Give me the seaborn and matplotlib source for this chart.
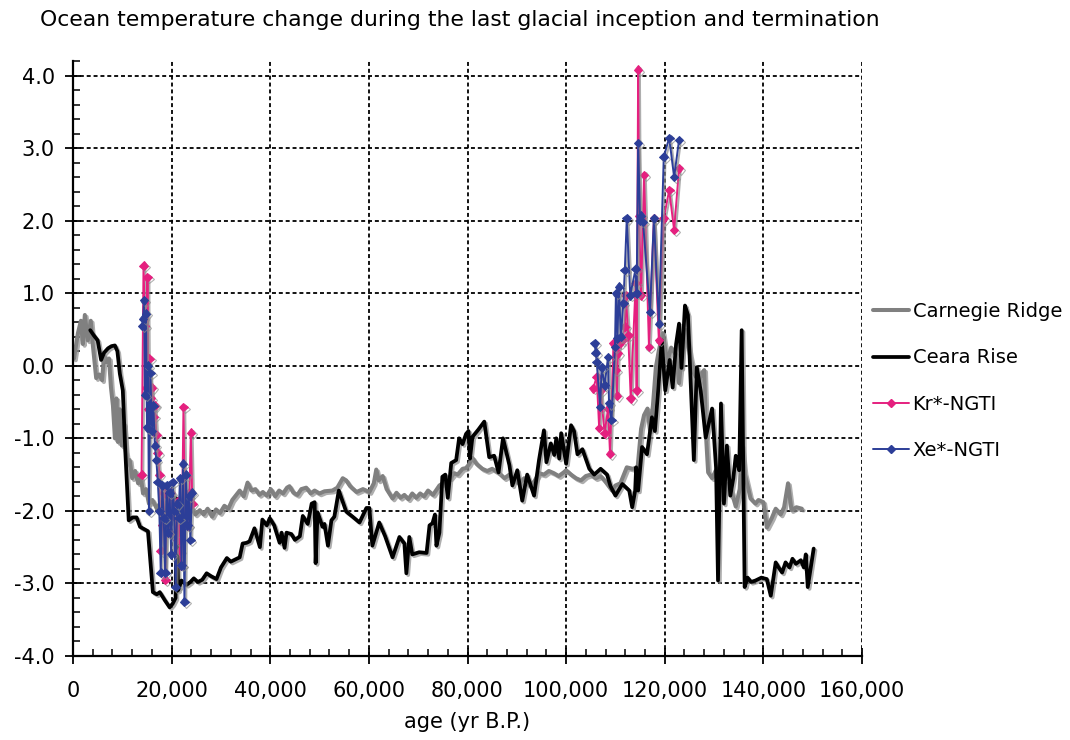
import numpy as np
import pandas as pd
import matplotlib
matplotlib.use("Agg")
import matplotlib.pyplot as plt
import seaborn as sns
from matplotlib import patheffects as pe
from matplotlib.lines import Line2D
from matplotlib.ticker import MultipleLocator, FuncFormatter

# ---- data: age in kyr B.P., temperature anomaly in deg C ----
carnegie_age = [0.2, 1.0, 1.6, 2.0, 2.4, 3.0, 3.6, 4.0, 4.7, 5.3, 5.9, 6.3, 6.8, 7.3, 7.7,
                8.1, 8.5, 8.8, 9.1, 9.5, 9.9, 10.3, 10.7, 11.1, 11.5, 12.0, 12.6, 13.2, 13.8,
                14.2, 14.8, 15.4, 16.1, 17.0, 17.8, 18.5, 19.2, 20.0, 20.8, 21.6, 22.4, 23.2,
                24.0, 24.8, 25.7, 26.5, 27.3, 28.2, 29.0, 29.8, 30.7, 31.5, 32.3, 33.1, 33.8,
                34.6, 35.4, 36.2, 37.0, 37.8, 38.5, 39.3, 40.1, 41.0, 41.8, 42.6, 43.4, 43.9,
                44.7, 45.5, 46.3, 47.3, 48.2, 49.0, 50.0, 51.0, 52.6, 53.6, 54.7, 55.4, 56.2,
                57.5, 58.8, 60.1, 61.0, 61.5, 62.0, 62.8, 63.6, 64.8, 65.6, 66.4, 67.2, 68.0,
                68.8, 69.6, 70.4, 71.2, 72.0, 73.0, 74.3, 75.0, 75.7, 76.5, 77.3, 78.0, 79.0,
                79.7, 80.3, 81.0, 81.8, 83.0, 84.0, 85.0, 86.4, 87.5, 88.5, 89.5, 90.5, 91.5,
                92.5, 93.5, 94.5, 95.5, 96.5, 97.5, 98.5, 99.5, 100.0, 101.0, 102.0, 103.0,
                104.0, 105.0, 106.0, 107.0, 108.0, 109.3, 110.0, 111.0, 112.3, 113.5, 114.5,
                115.2, 115.8, 116.5, 117.0, 117.6, 118.2, 118.8, 119.6, 120.5, 121.3, 122.3,
                122.9, 123.5, 124.3, 125.1, 125.9, 126.9, 127.5, 128.0, 128.4, 128.8, 129.6,
                130.3, 130.9, 131.7, 132.8, 133.6, 134.4, 135.2, 135.6, 136.2, 137.4, 138.4,
                139.0, 140.0, 140.7, 141.7, 142.5, 143.5, 144.2, 145.0, 145.7, 146.7, 147.8]
carnegie_temp = [0.10, 0.45, 0.62, 0.30, 0.70, 0.35, 0.62, 0.30, -0.17, -0.12, -0.20, 0.14,
                 0.05, 0.10, -0.30, -0.55, -1.00, -0.45, -1.05, -0.60, -1.10, -0.80, -1.17,
                 -1.35, -1.30, -1.55, -1.45, -1.62, -1.55, -1.76, -1.70, -1.90, -1.85, -1.97,
                 -1.88, -1.98, -1.85, -1.95, -1.82, -1.98, -1.90, -2.02, -1.95, -2.05, -1.99,
                 -2.05, -1.97, -2.08, -1.98, -2.03, -1.93, -1.97, -1.85, -1.78, -1.72, -1.80,
                 -1.61, -1.72, -1.70, -1.78, -1.74, -1.79, -1.70, -1.80, -1.72, -1.76, -1.68,
                 -1.66, -1.75, -1.78, -1.70, -1.68, -1.76, -1.72, -1.76, -1.73, -1.72, -1.68,
                 -1.55, -1.58, -1.66, -1.74, -1.70, -1.74, -1.62, -1.43, -1.58, -1.52, -1.70,
                 -1.83, -1.75, -1.82, -1.78, -1.84, -1.76, -1.82, -1.76, -1.80, -1.72, -1.78,
                 -1.65, -1.62, -1.54, -1.55, -1.48, -1.50, -1.42, -1.41, -1.36, -1.27, -1.35,
                 -1.42, -1.45, -1.42, -1.48, -1.55, -1.50, -1.58, -1.62, -1.55, -1.65, -1.60,
                 -1.48, -1.50, -1.45, -1.48, -1.52, -1.47, -1.44, -1.50, -1.55, -1.58, -1.52,
                 -1.50, -1.55, -1.52, -1.60, -1.72, -1.65, -1.62, -1.40, -1.42, -1.40, -0.87,
                 -0.68, -0.59, -0.89, -0.55, -0.02, 0.21, 0.45, 0.05, 0.25, 0.15, -0.24, 0.20,
                 0.49, 0.15, -0.10, -0.22, -0.10, -0.06, -1.00, -1.47, -1.55, -1.45, -1.67,
                 -1.85, -1.63, -1.75, -1.94, -1.70, -1.10, -1.48, -1.83, -1.90, -1.85, -1.88,
                 -2.23, -2.10, -1.97, -2.05, -1.95, -1.62, -1.99, -1.95, -1.97]

ceara_age = [3.5, 4.2, 5.0, 5.7, 6.3, 7.1, 7.8, 8.5, 9.0, 9.5, 10.1, 10.6, 11.3, 12.1, 12.9,
             13.6, 14.4, 15.2, 16.2, 17.0, 17.6, 18.6, 19.6, 20.2, 20.8, 21.0, 21.3, 22.0,
             23.0, 23.8, 24.5, 25.3, 26.2, 27.1, 28.0, 29.1, 30.0, 31.2, 32.0, 32.6, 33.8,
             34.4, 35.2, 35.8, 36.8, 37.9, 38.4, 39.3, 39.9, 40.8, 41.9, 42.3, 42.9, 43.3,
             44.3, 45.0, 46.0, 46.6, 47.6, 48.4, 49.0, 49.2, 49.6, 50.6, 51.0, 51.7, 52.4,
             53.0, 53.9, 55.4, 56.7, 58.1, 59.5, 60.1, 60.7, 62.1, 63.3, 64.8, 66.2, 67.2,
             67.6, 68.2, 68.8, 70.2, 71.7, 72.3, 72.9, 73.4, 73.7, 74.3, 74.9, 75.5, 76.0,
             76.7, 77.7, 78.3, 79.0, 79.7, 80.2, 80.5, 81.0, 82.2, 83.4, 84.4, 85.4, 86.3,
             87.2, 88.5, 89.1, 90.1, 91.1, 92.1, 93.5, 94.5, 95.5, 96.0, 96.9, 97.6, 98.0,
             98.6, 99.0, 100.0, 101.0, 101.6, 102.3, 103.3, 104.7, 105.7, 107.0, 108.3,
             109.0, 110.0, 111.4, 112.8, 113.4, 114.0, 114.2, 114.6, 115.4, 116.4, 117.4,
             118.0, 118.6, 119.4, 120.1, 121.0, 121.6, 122.3, 122.9, 123.4, 124.1, 124.7,
             125.9, 126.5, 127.3, 128.3, 129.6, 130.4, 130.8, 131.4, 132.0, 132.6, 133.3,
             133.9, 134.4, 135.1, 135.6, 136.2, 136.8, 137.5, 138.4, 139.6, 140.7, 141.5,
             142.5, 143.1, 143.8, 144.5, 145.3, 145.9, 146.6, 147.6, 148.2, 148.6, 149.0,
             150.2]
ceara_temp = [0.49, 0.42, 0.35, 0.08, 0.18, 0.24, 0.27, 0.28, 0.20, -0.11, -0.34, -1.17,
              -2.13, -2.09, -2.09, -2.22, -2.25, -2.28, -3.12, -3.15, -3.12, -3.23, -3.33,
              -3.28, -3.20, -1.83, -3.10, -2.96, -3.02, -2.98, -2.93, -2.98, -2.95, -2.86,
              -2.90, -2.94, -2.78, -2.65, -2.70, -2.68, -2.64, -2.45, -2.44, -2.42, -2.24,
              -2.50, -2.12, -2.20, -2.10, -2.20, -2.44, -2.30, -2.51, -2.30, -2.32, -2.40,
              -2.35, -2.07, -2.18, -1.90, -1.88, -2.72, -2.02, -2.22, -2.18, -2.48, -2.13,
              -2.08, -1.72, -2.01, -2.08, -2.16, -1.96, -1.96, -2.48, -2.16, -2.35, -2.64,
              -2.36, -2.45, -2.86, -2.36, -2.60, -2.57, -2.58, -2.20, -2.17, -2.05, -2.48,
              -2.30, -1.53, -1.50, -1.82, -1.34, -1.30, -1.00, -1.08, -0.94, -0.90, -1.28,
              -0.98, -0.88, -0.77, -1.26, -1.24, -1.47, -1.00, -1.37, -1.65, -1.44, -1.86,
              -1.50, -1.79, -1.30, -0.89, -1.33, -1.07, -1.23, -1.00, -1.28, -0.93, -1.35,
              -0.82, -0.90, -1.22, -1.15, -1.42, -1.50, -1.42, -1.50, -1.66, -1.79, -1.63,
              -1.72, -1.95, -1.72, -1.40, -1.72, -1.12, -1.22, -0.71, -0.90, -0.40, 0.35,
              -0.34, 0.08, -0.30, 0.30, 0.58, -0.03, 0.83, 0.70, -1.30, -0.02, -0.35, -0.99,
              -0.59, -1.40, -2.96, -0.52, -1.90, -1.10, -1.79, -1.55, -1.24, -1.44, 0.49,
              -3.05, -2.92, -2.98, -2.96, -2.92, -2.94, -3.17, -2.71, -2.78, -2.85, -2.71,
              -2.78, -2.66, -2.73, -2.68, -2.78, -2.60, -3.05, -2.52]

# Kr*-NGTI mean ocean temperature (termination and inception sections)
kr_age = [13.9, 14.3, 14.6, 14.9, 15.1, 15.3, 15.5, 15.8, 16.0, 16.3, 16.6, 16.9, 17.2, 17.5,
          17.8, 18.1, 18.4, 18.7, 19.0, 19.3, 19.6, 19.9, 20.2, 20.5, 20.8, 21.1, 21.4, 21.7,
          22.0, 22.4, 22.7, 23.0, 23.3, 23.6, 23.9, 24.2,
          105.5, 106.2, 106.7, 107.0, 107.8, 108.5, 108.9, 109.6, 110.1, 110.3, 110.5, 110.9,
          111.4, 111.9, 112.1, 112.6, 113.1, 114.1, 114.3, 114.6, 114.8, 115.2, 115.8, 116.8,
          117.8, 118.8, 119.8, 120.9, 121.9, 122.9]
kr_temp = [-1.50, 1.38, 0.55, -0.30, 1.22, -0.60, 0.10, -0.45, -0.30, -0.70, -0.55, -0.95,
           -1.20, -1.50, -2.55, -2.20, -1.75, -2.95, -2.05, -1.80, -2.30, -1.75, -2.05, -1.90,
           -2.10, -2.40, -1.85, -2.55, -2.75, -0.57, -2.10, -1.95, -2.20, -1.75, -0.92, -1.90,
           -0.31, -0.15, -0.86, -0.34, -0.93, -0.59, -1.21, 0.31, -0.06, -0.41, 0.17, 0.31,
           0.35, 0.54, 0.97, 0.42, -0.45, 1.14, -0.34, 4.08, 2.07, 0.97, 2.63, 0.26, 2.03,
           0.35, 2.03, 2.42, 1.87, 2.72]

# Xe*-NGTI mean ocean temperature
xe_age = [14.0, 14.2, 14.4, 14.6, 14.8, 15.0, 15.2, 15.4, 15.7, 16.0, 16.3, 16.6, 16.9, 17.2,
          17.5, 17.8, 18.1, 18.4, 18.7, 19.0, 19.3, 19.6, 19.9, 20.2, 20.5, 20.8, 21.1, 21.4,
          21.7, 22.0, 22.3, 22.6, 22.9, 23.2, 23.5, 23.8, 24.1,
          105.8, 106.0, 106.2, 106.9, 107.2, 107.8, 108.5, 108.7, 109.2, 109.9, 110.1, 110.4,
          110.7, 111.1, 111.6, 111.9, 112.3, 113.0, 114.1, 114.3, 114.6, 115.0, 115.2, 115.6,
          117.0, 117.8, 118.8, 119.8, 120.9, 121.9, 122.9]
xe_temp = [0.55, 0.65, 0.90, -0.40, 0.72, -0.85, 0.00, -2.00, -0.10, -0.90, -0.55, -1.10,
           -1.30, -1.60, -2.00, -2.85, -1.65, -2.10, -2.85, -1.65, -2.30, -1.75, -2.60, -1.60,
           -2.00, -3.05, -1.90, -2.10, -1.55, -2.75, -1.35, -3.25, -1.50, -2.20, -1.80, -2.40,
           -1.75,
           0.31, 0.18, 0.05, -0.57, -0.02, -0.27, 0.12, -0.52, -0.75, 0.26, 1.00, 0.38, 1.09,
           0.40, 0.86, 1.32, 2.03, 0.97, 1.34, 1.00, 3.07, 2.00, 2.07, 1.98, 0.74, 2.03, 0.58,
           2.88, 3.14, 2.60, 3.11]

series_names = ["Carnegie Ridge", "Ceara Rise", "Kr*-NGTI", "Xe*-NGTI"]
x_ticks = [0, 20000, 40000, 60000, 80000, 100000, 120000, 140000, 160000]
y_ticks = [-4.0, -3.0, -2.0, -1.0, 0.0, 1.0, 2.0, 3.0, 4.0]

# ---- style ----
sns.set_style("ticks")
plt.rcParams["font.family"] = ["DejaVu Sans"]
plt.rcParams["axes.unicode_minus"] = False
plt.rcParams["text.color"] = "black"
plt.rcParams["axes.labelcolor"] = "black"

GRAY = "#808080"
BLACK = "#000000"
PINK = "#E5207F"
BLUE = "#2C3E98"

fig = plt.figure(figsize=(10.7, 7.4), dpi=100)
ax = fig.add_axes([73 / 1070, 1 - 656 / 740, (862 - 73) / 1070, (656 - 61) / 740])

shadow = [pe.SimpleLineShadow(offset=(1.3, -1.3), shadow_color="#8c8c8c", alpha=0.7),
          pe.Normal()]


def to_years(a):
    return np.asarray(a) * 1000.0


def noble_gas_frame(age, temp):
    # split the record into its termination and inception sections so the
    # gap between them is not bridged by a line
    age = np.asarray(age)
    return pd.DataFrame({"age": age * 1000.0, "temp": temp,
                         "section": np.where(age < 60, 1, 2)})


sns.lineplot(x=to_years(carnegie_age), y=carnegie_temp, ax=ax, sort=False,
             estimator=None, color=GRAY, lw=2.9, path_effects=shadow, zorder=3)
sns.lineplot(x=to_years(ceara_age), y=ceara_temp, ax=ax, sort=False,
             estimator=None, color=BLACK, lw=2.7, path_effects=shadow, zorder=4)

kr = noble_gas_frame(kr_age, kr_temp)
xe = noble_gas_frame(xe_age, xe_temp)
sns.lineplot(data=kr, x="age", y="temp", units="section", estimator=None, sort=False,
             ax=ax, color=PINK, lw=1.4, marker="D", ms=4.4, mec=PINK, mfc=PINK,
             path_effects=shadow, zorder=5)
sns.lineplot(data=xe, x="age", y="temp", units="section", estimator=None, sort=False,
             ax=ax, color=BLUE, lw=1.4, marker="D", ms=4.4, mec=BLUE, mfc=BLUE,
             path_effects=shadow, zorder=6)

# ---- axes ----
ax.set_xlim(0, 160000)
ax.set_ylim(-4.0, 4.2)
ax.set_xticks(x_ticks)
ax.set_yticks(y_ticks)
ax.xaxis.set_minor_locator(MultipleLocator(4000))
ax.yaxis.set_minor_locator(MultipleLocator(0.2))
ax.xaxis.set_major_formatter(FuncFormatter(lambda v, p: f"{int(round(v)):,}"))
ax.yaxis.set_major_formatter(FuncFormatter(lambda v, p: f"{v:.1f}"))
ax.tick_params(axis="both", which="both", bottom=True, left=True, top=False, right=False,
               colors="black")
ax.tick_params(axis="both", which="major", direction="inout", length=12, width=1.3,
               labelsize=15)
ax.tick_params(axis="both", which="minor", direction="in", length=5, width=1.1)
ax.tick_params(axis="x", which="major", pad=12)
ax.tick_params(axis="y", which="major", pad=7)

for side in ("top", "right"):
    ax.spines[side].set_visible(False)
for side in ("left", "bottom"):
    ax.spines[side].set_color("black")
    ax.spines[side].set_linewidth(1.6)
    ax.spines[side].set_zorder(7)

ax.grid(True, which="major", color="black", lw=1.3, linestyle=(0, (2.2, 1.6)))
ax.set_axisbelow(True)

ax.set_xlabel("age (yr B.P.)", fontsize=15, labelpad=8)
ax.set_ylabel("")
fig.text(40 / 1070, 1 - 20 / 740,
         "Ocean temperature change during the last glacial inception and termination",
         fontsize=15.75, va="center", ha="left")

handles = [
    Line2D([], [], color=GRAY, lw=2.9),
    Line2D([], [], color=BLACK, lw=2.7),
    Line2D([], [], color=PINK, lw=1.4, marker="D", ms=4),
    Line2D([], [], color=BLUE, lw=1.4, marker="D", ms=4),
]
ax.legend(handles, series_names, loc="center left", bbox_to_anchor=(1.0, 0.462),
          frameon=False, fontsize=14, handlelength=1.85, handletextpad=0.2,
          labelspacing=1.4, borderaxespad=0.15)

fig.savefig("out.png", dpi=100)
